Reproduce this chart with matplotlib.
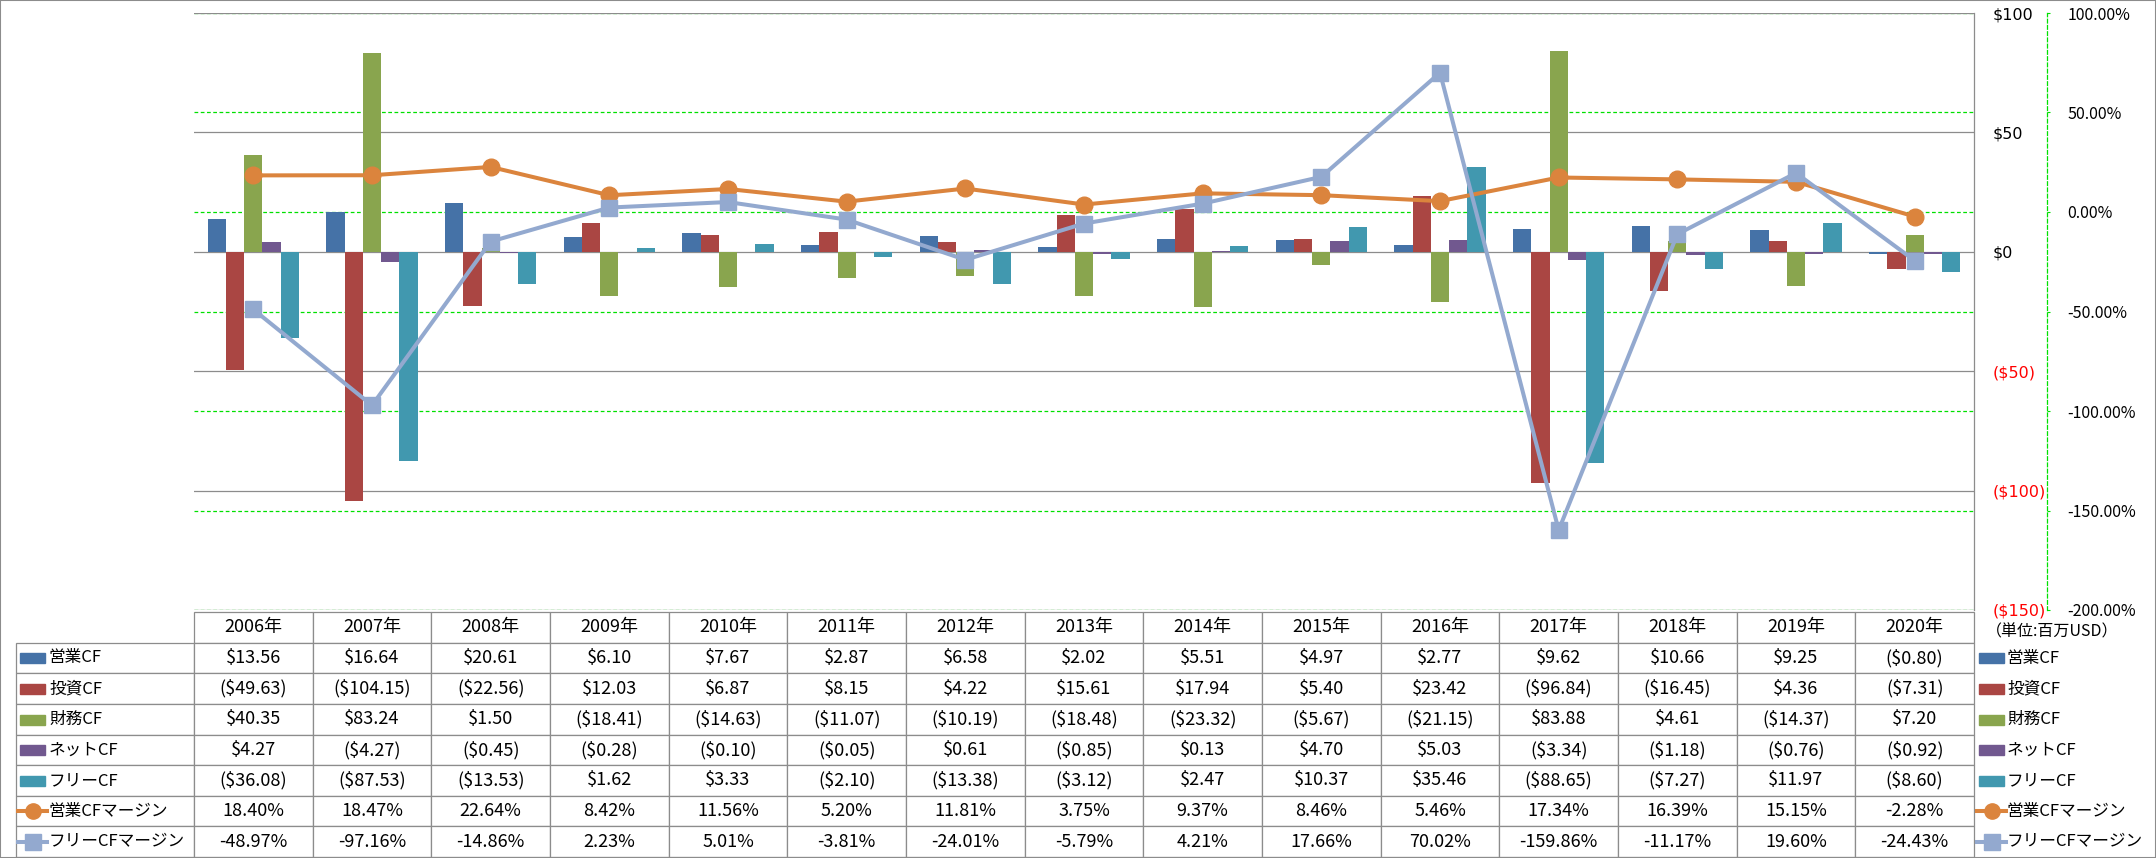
import matplotlib
matplotlib.use('Agg')
import matplotlib.pyplot as plt
from matplotlib.patches import Rectangle
from matplotlib.lines import Line2D
import numpy as np

plt.rcParams['font.family'] = ['Noto Sans CJK JP', 'DejaVu Sans']

years = ['2006年', '2007年', '2008年', '2009年', '2010年', '2011年', '2012年', '2013年',
         '2014年', '2015年', '2016年', '2017年', '2018年', '2019年', '2020年']

bar_names = ['営業CF', '投資CF', '財務CF', 'ネットCF', 'フリーCF']
op_cf = [13.56, 16.64, 20.61, 6.10, 7.67, 2.87, 6.58, 2.02, 5.51, 4.97, 2.77, 9.62, 10.66, 9.25, -0.80]
inv_cf = [-49.63, -104.15, -22.56, 12.03, 6.87, 8.15, 4.22, 15.61, 17.94, 5.40, 23.42, -96.84, -16.45, 4.36, -7.31]
fin_cf = [40.35, 83.24, 1.50, -18.41, -14.63, -11.07, -10.19, -18.48, -23.32, -5.67, -21.15, 83.88, 4.61, -14.37, 7.20]
net_cf = [4.27, -4.27, -0.45, -0.28, -0.10, -0.05, 0.61, -0.85, 0.13, 4.70, 5.03, -3.34, -1.18, -0.76, -0.92]
free_cf = [-36.08, -87.53, -13.53, 1.62, 3.33, -2.10, -13.38, -3.12, 2.47, 10.37, 35.46, -88.65, -7.27, 11.97, -8.60]

line_names = ['営業CFマージン', 'フリーCFマージン']
op_margin = [18.40, 18.47, 22.64, 8.42, 11.56, 5.20, 11.81, 3.75, 9.37, 8.46, 5.46, 17.34, 16.39, 15.15, -2.28]
free_margin = [-48.97, -97.16, -14.86, 2.23, 5.01, -3.81, -24.01, -5.79, 4.21, 17.66, 70.02, -159.86, -11.17, 19.60, -24.43]

dollar_ticks = [-150, -100, -50, 0, 50, 100]
pct_ticks = [-200, -150, -100, -50, 0, 50, 100]
unit_note = '（単位:百万USD）'

bar_colors = ['#4572A7', '#AA4643', '#89A54E', '#71588F', '#4198AF']
line_colors = ['#DB843D', '#93A9CF']
line_markers = ['o', 's']
gray = '#8C8C8C'
green = '#00E000'

W, H = 2156, 858


def fx(x):
    return x / W


def fy(y):
    return 1 - y / H


def money(v):
    return f'(${abs(v):.2f})' if v < 0 else f'${v:.2f}'


def money_tick(v):
    return f'(${abs(v):.0f})' if v < 0 else f'${v:.0f}'


fig = plt.figure(figsize=(W / 100, H / 100), dpi=100)
rect = [fx(194), fy(610), (1974 - 194) / W, (610 - 13) / H]

# percent axis at the back (green dashed grid), bars, then lines on top
ax_p = fig.add_axes(rect)
ax = fig.add_axes(rect)
ax_l = fig.add_axes(rect)
ax_p.set_zorder(1)
ax.set_zorder(2)
ax_l.set_zorder(3)
ax.patch.set_visible(False)
ax_l.patch.set_visible(False)

x = np.arange(len(years))
for a in (ax_p, ax, ax_l):
    a.set_xlim(-0.5, len(years) - 0.5)
    a.set_xticks([])
    for s in a.spines.values():
        s.set_visible(False)

ax_p.set_ylim(-200, 100)
ax_l.set_ylim(-200, 100)
ax.set_ylim(-150, 100)

# bars
series = [op_cf, inv_cf, fin_cf, net_cf, free_cf]
w = 1 / 6.5
for i, (vals, c) in enumerate(zip(series, bar_colors)):
    ax.bar(x + (i - 2) * w, vals, width=w, color=c, linewidth=0)

ax.set_axisbelow(True)
ax.grid(axis='y', color=gray, lw=0.9)
ax.yaxis.tick_right()
ax.set_yticks(dollar_ticks, labels=[money_tick(v) for v in dollar_ticks])
ax.tick_params(axis='y', length=0, pad=13.5, labelsize=11.5)
for lab, v in zip(ax.get_yticklabels(), dollar_ticks):
    lab.set_color('#FF0000' if v < 0 else 'black')
    lab.set_fontfamily('DejaVu Sans')
ax.spines['right'].set_visible(True)
ax.spines['right'].set_color(gray)
ax.spines['right'].set_linewidth(0.9)

ax_p.grid(axis='y', color=green, lw=0.9, ls=(0, (3, 2)))
ax_p.yaxis.tick_right()
ax_p.set_yticks(pct_ticks, labels=[f'{v:.2f}%' for v in pct_ticks])
ax_p.tick_params(axis='y', direction='out', length=2, color=green, pad=12.5, labelsize=11.5)
for lab, v in zip(ax_p.get_yticklabels(), pct_ticks):
    lab.set_color('#FF0000' if v < 0 else 'black')
    lab.set_fontfamily('DejaVu Sans')
ax_p.spines['right'].set_visible(True)
ax_p.spines['right'].set_position(('outward', (2047 - 1974) * 0.72))
ax_p.spines['right'].set_color(green)
ax_p.spines['right'].set_linestyle((0, (3, 2)))
ax_p.spines['right'].set_linewidth(0.9)

# margin lines
ax_l.set_yticks([])
for vals, c, m in zip([op_margin, free_margin], line_colors, line_markers):
    ax_l.plot(x, vals, color=c, lw=2.9, marker=m, ms=12, clip_on=False)

# data table
tax = fig.add_axes([fx(16), fy(857), (1974 - 16) / W, (857 - 612) / H])
tax.axis('off')
cell_text = [[''] + years]
for name, vals in zip(bar_names, series):
    cell_text.append([name] + [money(v) for v in vals])
for name, vals in zip(line_names, [op_margin, free_margin]):
    cell_text.append([name] + [f'{v:.2f}%' for v in vals])
tot = 178 + 118.667 * 15
col_w = [178 / tot] + [118.667 / tot] * 15
tbl = tax.table(cellText=cell_text, colWidths=col_w, cellLoc='center', bbox=[0, 0, 1, 1])
tbl.auto_set_font_size(False)
for (r, c), cell in tbl.get_celld().items():
    cell.set_edgecolor(gray)
    cell.set_linewidth(0.9)
    cell.get_text().set_fontsize(13)
    if c == 0:
        cell.get_text().set_ha('left')
        cell.get_text().set_fontsize(12)
        cell.PAD = 33 / 178
    if r == 0 and c == 0:
        cell.visible_edges = ''

# legend keys in the table and at the right
row_h = (857 - 612) / 8
names = bar_names + line_names
for i, name in enumerate(names):
    yc = 643 + row_h * (i + 0.5)
    if i < 5:
        for x0 in (20, 1979):
            fig.add_artist(Rectangle((fx(x0), fy(yc + 5)), 25 / W, 10 / H,
                                     color=bar_colors[i], transform=fig.transFigure))
    else:
        c = line_colors[i - 5]
        m = line_markers[i - 5]
        for x0 in (18, 1977):
            fig.add_artist(Line2D([fx(x0), fx(x0 + 29)], [fy(yc), fy(yc)], color=c, lw=2.9,
                                  transform=fig.transFigure))
            fig.add_artist(Line2D([fx(x0 + 14.5)], [fy(yc)], color=c, marker=m, ms=11,
                                  transform=fig.transFigure))
    fig.text(fx(2007), fy(yc), name, va='center', ha='left', fontsize=12)

fig.text(fx(2052), fy(632), unit_note, va='center', ha='center', fontsize=11.5)

fig.add_artist(Rectangle((0, 0), 1, 1, fill=False, edgecolor=gray, lw=1.5,
                         transform=fig.transFigure))

fig.savefig('out.png', dpi=100, facecolor='white')
